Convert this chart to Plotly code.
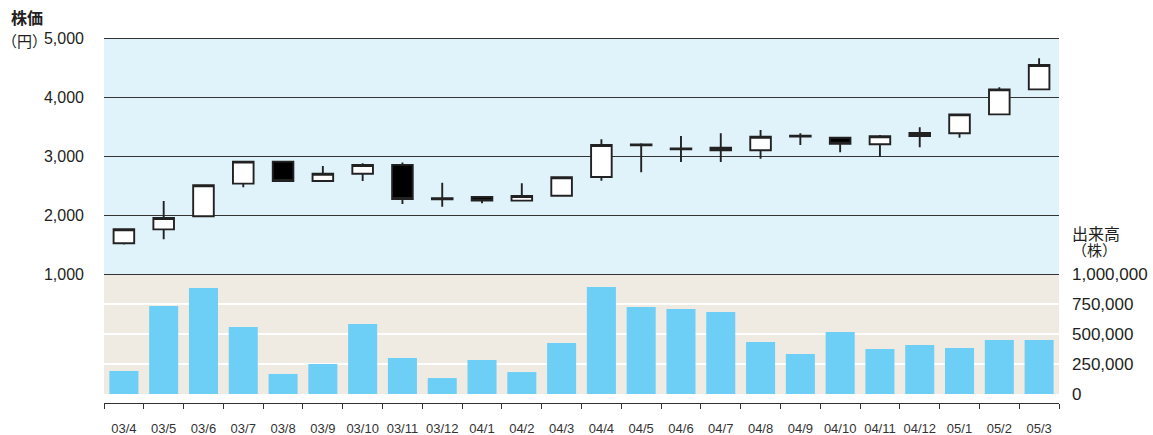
import plotly.graph_objects as go

months = ["03/4", "03/5", "03/6", "03/7", "03/8", "03/9", "03/10", "03/11", "03/12",
          "04/1", "04/2", "04/3", "04/4", "04/5", "04/6", "04/7", "04/8", "04/9",
          "04/10", "04/11", "04/12", "05/1", "05/2", "05/3"]

open_p = [1520, 1757, 1978, 2531, 2904, 2576, 2700, 2850, 2285,
          2305, 2243, 2327, 2644, 3180, 3115, 3141, 3097, 3330,
          3310, 3198, 3339, 3385, 3706, 4130]
high_p = [1770, 2237, 2510, 2910, 2910, 2831, 2876, 2890, 2547,
          2305, 2537, 2640, 3283, 3215, 3339, 3385, 3441, 3385,
          3320, 3356, 3486, 3710, 4164, 4656]
low_p = [1500, 1588, 1965, 2469, 2560, 2570, 2576, 2186, 2141,
         2198, 2233, 2310, 2581, 2723, 2898, 2898, 2954, 3186,
         3063, 2983, 3147, 3310, 3690, 4120]
close_p = [1758, 1949, 2503, 2904, 2576, 2700, 2847, 2271, 2265,
           2243, 2322, 2639, 3186, 3195, 3130, 3097, 3327, 3345,
           3208, 3334, 3390, 3706, 4130, 4542]

volume = [192000, 733000, 883000, 558000, 167000, 250000, 583000, 300000, 133000,
          283000, 183000, 425000, 892000, 725000, 708000, 683000, 433000, 333000,
          517000, 375000, 408000, 383000, 450000, 450000]

price_ticks = [1000, 2000, 3000, 4000, 5000]
price_tick_text = ["1,000", "2,000", "3,000", "4,000", "5,000"]
vol_ticks = [0, 250000, 500000, 750000, 1000000]
vol_tick_text = ["0", "250,000", "500,000", "750,000", "1,000,000"]

FONT = "Liberation Sans, Arial, Noto Sans CJK JP, sans-serif"
JFONT = "Noto Sans CJK JP, sans-serif"
TXT = "#231f20"

fig = go.Figure()

fig.add_trace(go.Bar(
    x=months, y=volume, xaxis="x", yaxis="y2",
    marker=dict(color="#6dcff6", line=dict(width=0)),
    showlegend=False, hoverinfo="skip",
))

fig.add_trace(go.Candlestick(
    x=months, open=open_p, high=high_p, low=low_p, close=close_p,
    xaxis="x", yaxis="y",
    increasing=dict(fillcolor="#ffffff", line=dict(color="#222222", width=1.9)),
    decreasing=dict(fillcolor="#000000", line=dict(color="#222222", width=1.9)),
    whiskerwidth=0, showlegend=False,
))

W, H = 1153, 435
L, R, T, B = 104, 94, 36, 32
PW = W - L - R
PH = H - T - B

# pixel rows (from top of page) of the panels
P_TOP, P_BOT = 38, 274       # 5,000 and 1,000 lines
V_TOP, V_BOT = 274, 394      # volume panel
EXTRA = 2                    # extend price domain so edge gridlines get drawn

ppu = (P_BOT - P_TOP) / (price_ticks[-1] - price_ticks[0])
p_range = [price_ticks[0] - EXTRA / ppu, price_ticks[-1] + (P_TOP - T) / ppu]


def px_x(px):
    return (px - L) / PW


def px_y(py):
    return (H - B - py) / PH


fig.update_layout(
    width=W, height=H,
    margin=dict(l=L, r=R, t=T, b=B, autoexpand=False),
    paper_bgcolor="#ffffff", plot_bgcolor="rgba(0,0,0,0)",
    font=dict(family=FONT, color=TXT),
    bargap=0.27, boxgap=0.26,
    showlegend=False,
    xaxis=dict(
        type="category", anchor="free", position=0, automargin=False,
        tickson="boundaries", ticks="outside", ticklen=5, tickwidth=1.2,
        tickcolor="#333333", showline=True, linecolor="#333333", linewidth=1.2,
        showgrid=False, rangeslider=dict(visible=False), tickangle=0,
        tickfont=dict(size=13, color="#333333"), ticklabelstandoff=13,
        fixedrange=True,
    ),
    yaxis=dict(
        domain=[px_y(P_BOT + EXTRA), 1], range=p_range, automargin=False,
        tickvals=price_ticks, ticktext=price_tick_text,
        showgrid=True, gridcolor="#333333", gridwidth=1.2, zeroline=False,
        ticks="", tickfont=dict(size=16, color=TXT), ticklabelstandoff=19,
        showline=False, fixedrange=True,
    ),
    yaxis2=dict(
        domain=[px_y(V_BOT), px_y(V_TOP)], range=[vol_ticks[0], vol_ticks[-1]], side="right",
        anchor="x", automargin=False,
        tickvals=vol_ticks, ticktext=vol_tick_text,
        showgrid=True, gridcolor="#ffffff", gridwidth=1.5, zeroline=False,
        ticks="", tickfont=dict(size=17, color=TXT), ticklabelstandoff=12,
        showline=False, fixedrange=True,
    ),
    shapes=[
        dict(type="rect", xref="paper", yref="paper", x0=0, x1=1,
             y0=px_y(P_BOT), y1=px_y(P_TOP),
             fillcolor="#e0f3fb", line=dict(width=0), layer="below"),
        dict(type="rect", xref="paper", yref="paper", x0=0, x1=1,
             y0=px_y(V_BOT), y1=px_y(V_TOP),
             fillcolor="#f0ebe2", line=dict(width=0), layer="below"),
    ],
    annotations=[
        dict(text="<b>株価</b>", xref="paper", yref="paper", x=px_x(9), y=px_y(17),
             xanchor="left", yanchor="middle", showarrow=False,
             font=dict(family=JFONT, size=16, color=TXT)),
        dict(text="（円）", xref="paper", yref="paper", x=px_x(0), y=px_y(40),
             xanchor="left", yanchor="middle", showarrow=False,
             font=dict(family=JFONT, size=15, color=TXT)),
        dict(text="<span style='font-size:16px'>出来高</span><br>"
                  "<span style='font-size:15px'>（株）</span>",
             xref="paper", yref="paper", x=px_x(1070), y=px_y(241),
             xanchor="left", yanchor="middle", align="left", showarrow=False,
             font=dict(family=JFONT, size=12.5, color=TXT)),
    ],
)

fig.write_html("out.html", post_script="document.body.style.margin='0';",
               config={"displayModeBar": False})
